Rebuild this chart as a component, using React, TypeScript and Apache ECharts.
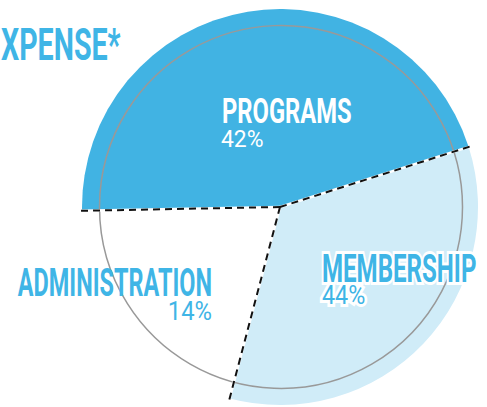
import React, { useEffect, useRef } from "react";
import * as echarts from "echarts";

// ---- data ----
const categories = ["PROGRAMS", "MEMBERSHIP", "ADMINISTRATION"];
// slice sizes as drawn in the picture (share of the full circle, %)
const sliceShares = [45.4, 34.0, 20.6];
// percentages printed on the chart
const shareLabels = ["42%", "44%", "14%"];
const titleText = "XPENSE*";

// ---- styles ----
const sliceColors = ["#41b3e3", "#d0ecf8", "#ffffff"];
const BLUE_TEXT = "#3fb5e6";
const CX = 280;
const CY = 207;
const R = 198;
const START = 181.1;

function inkWidth(text: string, font: string): number {
  const ctx = document.createElement("canvas").getContext("2d");
  if (!ctx) return text.length * 10;
  ctx.font = font;
  const m = ctx.measureText(text);
  const w = (m.actualBoundingBoxLeft || 0) + (m.actualBoundingBoxRight || 0);
  return w > 0 ? w : m.width;
}

function fitText(
  text: string,
  font: string,
  x: number,
  y: number,
  targetW: number,
  align: "left" | "right",
  fill: string,
  halo: boolean
) {
  const sx = targetW / inkWidth(text, font);
  return {
    type: "text",
    x,
    y,
    scaleX: sx,
    z: 200,
    silent: true,
    style: {
      text,
      font,
      fill,
      align,
      verticalAlign: "middle",
      ...(halo ? { stroke: "#ffffff", lineWidth: 6 } : {}),
    },
  };
}

export default function App() {
  const ref = useRef<HTMLDivElement>(null);

  useEffect(() => {
    if (!ref.current) return;
    const chart = echarts.init(ref.current, undefined, { renderer: "svg" });

    const total = sliceShares.reduce((a, b) => a + b, 0);
    // boundary angles between slices (degrees, clockwise from START)
    const bounds: number[] = [];
    let cum = 0;
    for (let i = 0; i < sliceShares.length; i++) {
      bounds.push(START - (360 * cum) / total);
      cum += sliceShares[i];
    }
    const dashLines: any[] = [];
    bounds.forEach((a) => {
      const rad = (a * Math.PI) / 180;
      const x2 = CX + (R + 1) * Math.cos(rad);
      const y2 = CY - (R + 1) * Math.sin(rad);
      dashLines.push({
        type: "line",
        z: 150,
        silent: true,
        shape: { x1: CX, y1: CY, x2, y2 },
        style: { stroke: "#ffffff", lineWidth: 2.5 },
      });
      dashLines.push({
        type: "line",
        z: 151,
        silent: true,
        shape: { x1: CX, y1: CY, x2, y2 },
        style: { stroke: "#111111", lineWidth: 2, lineDash: [7, 5] },
      });
    });

    const bold = (s: number) => `bold ${s}px Roboto`;
    const reg = (s: number) => `${s}px Roboto`;

    chart.setOption({
      animation: false,
      series: [
        {
          type: "pie",
          center: [CX, CY],
          radius: [0, R],
          startAngle: START,
          clockwise: true,
          silent: true,
          label: { show: false },
          labelLine: { show: false },
          emphasis: { disabled: true },
          data: categories.map((name, i) => ({
            name,
            value: sliceShares[i],
            itemStyle: { color: sliceColors[i] },
          })),
        },
      ],
      graphic: [
        {
          type: "circle",
          z: 140,
          silent: true,
          shape: { cx: 281, cy: 207, r: 181.5 },
          style: { fill: "none", stroke: "#999999", lineWidth: 1.5 },
        },
        ...dashLines,
        fitText(titleText, bold(45), 1, 44, 120, "left", BLUE_TEXT, false),
        fitText(categories[0], bold(35), 222, 110.5, 128, "left", "#ffffff", false),
        fitText(shareLabels[0], reg(24), 221, 138.5, 42, "left", "#ffffff", false),
        fitText(categories[2], bold(38), 212, 283.5, 193, "right", BLUE_TEXT, false),
        fitText(shareLabels[2], reg(25), 212, 311, 42, "right", BLUE_TEXT, false),
        fitText(categories[1], bold(38), 322, 268.5, 153, "left", BLUE_TEXT, true),
        fitText(shareLabels[1], reg(25), 322, 296, 43, "left", BLUE_TEXT, true),
      ],
    });

    return () => chart.dispose();
  }, []);

  return (
    <div
      ref={ref}
      style={{ position: "absolute", left: 0, top: 0, width: 487, height: 407 }}
    />
  );
}
